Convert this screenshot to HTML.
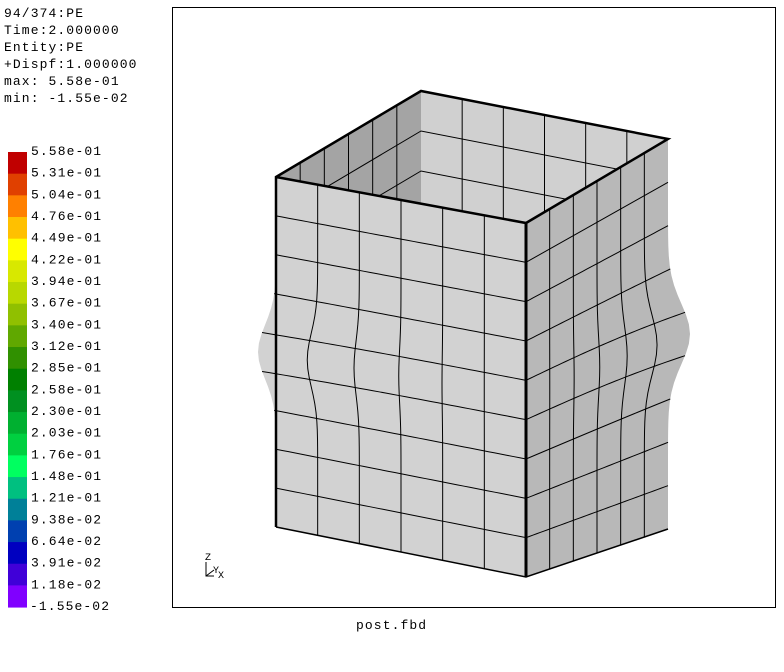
<!DOCTYPE html>
<html><head><meta charset="utf-8"><style>
body{margin:0;background:#fff;width:784px;height:672px;overflow:hidden;font-family:"Liberation Mono",monospace;}
svg{position:absolute;left:0;top:0}
text{letter-spacing:1.1px}
</style></head><body>
<svg id="s" width="784" height="672">
<defs><clipPath id="op"><polygon points="276,177 421,91 668,139 526,223"/></clipPath></defs>
<rect x="172.5" y="7.5" width="603" height="600" fill="none" stroke="#000"/>
<g font-size="13" fill="#000">
<text x="4" y="17">94/374:PE</text>
<text x="4" y="34">Time:2.000000</text>
<text x="4" y="51">Entity:PE</text>
<text x="4" y="68">+Dispf:1.000000</text>
<text x="4" y="85">max: 5.58e-01</text>
<text x="4" y="102">min: -1.55e-02</text>
</g>
<g id="legend"></g>
<g id="model"></g>
<g stroke="#000" fill="none" stroke-width="1">
<path d="M206 562 L206 576 L214 576 M206 576 L214 570"/>
<text x="205" y="560" font-size="10" fill="#000" stroke="none">Z</text>
<text x="213" y="573" font-size="10" fill="#000" stroke="none">Y</text>
<text x="218" y="578" font-size="10" fill="#000" stroke="none">X</text>
</g>
<text x="356" y="629" font-size="13">post.fbd</text>
</svg>
<script>
const legendLabels=["5.58e-01","5.31e-01","5.04e-01","4.76e-01","4.49e-01","4.22e-01","3.94e-01","3.67e-01","3.40e-01","3.12e-01","2.85e-01","2.58e-01","2.30e-01","2.03e-01","1.76e-01","1.48e-01","1.21e-01","9.38e-02","6.64e-02","3.91e-02","1.18e-02","-1.55e-02"];
const legendColors=["#c00000","#e04000","#ff8000","#ffc000","#ffff00","#d8e800","#b8d800","#90c000","#60a800","#309000","#008000","#009020","#00b030","#00d040","#00ff60","#00c080","#008098","#0040b0","#0000c0","#4000d8","#8000ff"];
const NS="http://www.w3.org/2000/svg";
const lg=document.getElementById('legend');
const top0=152,h=21.67;
legendColors.forEach((c,i)=>{const r=document.createElementNS(NS,'rect');
r.setAttribute('x',8);r.setAttribute('y',top0+i*h);r.setAttribute('width',19);r.setAttribute('height',h+0.5);r.setAttribute('fill',c);


lg.appendChild(r);});
legendLabels.forEach((t,i)=>{const e=document.createElementNS(NS,'text');
e.setAttribute('x',i==legendLabels.length-1?30:31);e.setAttribute('y',top0+i*h+3);e.setAttribute('font-size','13');e.textContent=t;


lg.appendChild(e);});
const m=document.getElementById('model');
function add(tag,attrs,parent){const e=document.createElementNS(NS,tag);for(const k in attrs)e.setAttribute(k,attrs[k]);(parent||m).appendChild(e);return e;}
function bl(a,b,c,d,u,v){return [a[0]*(1-u)*(1-v)+b[0]*u*(1-v)+c[0]*(1-u)*v+d[0]*u*v,a[1]*(1-u)*(1-v)+b[1]*u*(1-v)+c[1]*(1-u)*v+d[1]*u*v];}
function bump(v){return Math.exp(-Math.pow((v-0.5)/0.11,2));}
// opening/interior
add('polygon',{points:"276,177 421,91 668,139 526,223",fill:"#c8c8c8"});
add('polygon',{points:"276,177 421,91 421,320 276,380",fill:"#a4a4a4"});
add('polygon',{points:"421,91 668,139 668,360 421,320",fill:"#d0d0d0"});
const ig=add('g',{'clip-path':'url(#op)'});
for(let k=1;k<6;k++){const x=276+(421-276)*k/6,y=177+(91-177)*k/6;add('line',{x1:x,y1:y,x2:x,y2:y+200,stroke:'#000'},ig);}
for(let k=1;k<6;k++){const x=421+(668-421)*k/6,y=91+(139-91)*k/6;add('line',{x1:x,y1:y,x2:x,y2:y+200,stroke:'#000'},ig);}
for(let r=1;r<4;r++){const d=r*40;add('polyline',{points:`276,${177+d} 421,${91+d} 668,${139+d}`,fill:'none',stroke:'#000'},ig);}
function face(TL,TR,BL,BR,dx,side,fill,nu,nv){
 const pt=(u,v)=>{const p=bl(TL,TR,BL,BR,u,v);const w=side<0?Math.pow(1-u,3):Math.pow(u,3);p[0]+=dx*w*bump(v);return p;};
 const N=40;
 let pts=[];for(let i=0;i<=N;i++)pts.push(pt(0,i/N));for(let i=N;i>=0;i--)pts.push(pt(1,i/N));
 add('polygon',{points:pts.map(p=>p.join(',')).join(' '),fill:fill});
 for(let j=1;j<nv;j++){let q=[];for(let i=0;i<=N;i++)q.push(pt(i/N,j/nv));add('polyline',{points:q.map(p=>p.join(',')).join(' '),fill:'none',stroke:'#000','stroke-width':1});}
 for(let j=1;j<nu;j++){let q=[];for(let i=0;i<=N;i++)q.push(pt(j/nu,i/N));add('polyline',{points:q.map(p=>p.join(',')).join(' '),fill:'none',stroke:'#000','stroke-width':1});}
}
face([276,177],[526,223],[276,527],[526,577],-18,-1,"#d2d2d2",6,9);
face([526,223],[668,139],[526,577],[668,529],22,1,"#b8b8b8",6,9);
add('polyline',{points:"276,527 276,177 421,91 668,139 526,223 276,177",fill:'none',stroke:'#000','stroke-width':2.5});
add('polyline',{points:"526,223 526,577",fill:'none',stroke:'#000','stroke-width':3});
add('polyline',{points:"276,527 526,577 668,529",fill:'none',stroke:'#000','stroke-width':1.5});
</script>
</body></html>
